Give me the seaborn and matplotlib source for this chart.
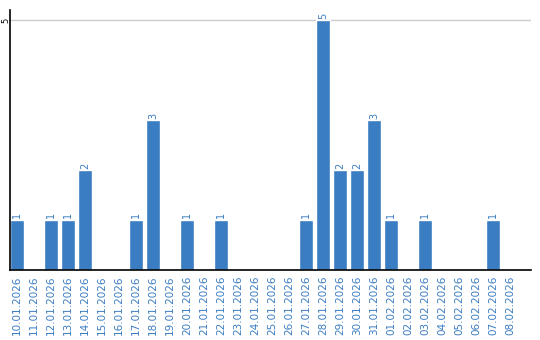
import matplotlib
matplotlib.use("Agg")
import matplotlib.pyplot as plt
import matplotlib.transforms as mtransforms
import seaborn as sns
import pandas as pd

dates = ["10.01.2026", "11.01.2026", "12.01.2026", "13.01.2026", "14.01.2026",
         "15.01.2026", "16.01.2026", "17.01.2026", "18.01.2026", "19.01.2026",
         "20.01.2026", "21.01.2026", "22.01.2026", "23.01.2026", "24.01.2026",
         "25.01.2026", "26.01.2026", "27.01.2026", "28.01.2026", "29.01.2026",
         "30.01.2026", "31.01.2026", "01.02.2026", "02.02.2026", "03.02.2026",
         "04.02.2026", "05.02.2026", "06.02.2026", "07.02.2026", "08.02.2026"]
counts = [1, 0, 1, 1, 2, 0, 0, 1, 3, 0, 1, 0, 1, 0, 0, 0, 0, 1, 5, 2, 2, 3, 1, 0, 1, 0, 0, 0, 1, 0]
y_ticks = [5]

sns.set_theme(style="white")
plt.rcParams['font.family'] = ['DejaVu Sans']

df = pd.DataFrame({"date": dates, "count": counts})
blue = "#3b7dc2"

fig = plt.figure(figsize=(5.4, 3.4), dpi=100)
ax = fig.add_axes([10/540, 70/340, 521/540, 260/340])
sns.barplot(data=df, x="date", y="count", color=blue, saturation=1, width=0.82, ax=ax)

ax.set_xlim(-0.41, 30.24)
ax.set_ylim(0, 5.2)
ax.set_yticks(y_ticks)
ax.set_yticklabels([])
ax.tick_params(axis="y", length=0)
trans = mtransforms.blended_transform_factory(fig.transFigure, ax.transData)
for v in y_ticks:
    ax.axhline(v, color="#cccccc", lw=1, zorder=0)
    ax.text(5.5/540, v, str(v), transform=trans, rotation=90, ha="center",
            va="center", fontsize=6, color="black", clip_on=False)
ax.tick_params(axis="x", length=0, pad=4)
ax.set_xticks(range(len(dates)))
ax.set_xticklabels(dates, rotation=90, fontsize=7.5, color=blue)
ax.set_xlabel("")
ax.set_ylabel("")

for s in ["top", "right"]:
    ax.spines[s].set_visible(False)
for s in ["left", "bottom"]:
    ax.spines[s].set_color("black")
    ax.spines[s].set_linewidth(1.2)

for i, c in enumerate(counts):
    if c > 0:
        ax.text(i, c + 0.03, str(c), rotation=90, ha="center", va="bottom",
                fontsize=7, color=blue)

fig.savefig("out.png", dpi=100)
